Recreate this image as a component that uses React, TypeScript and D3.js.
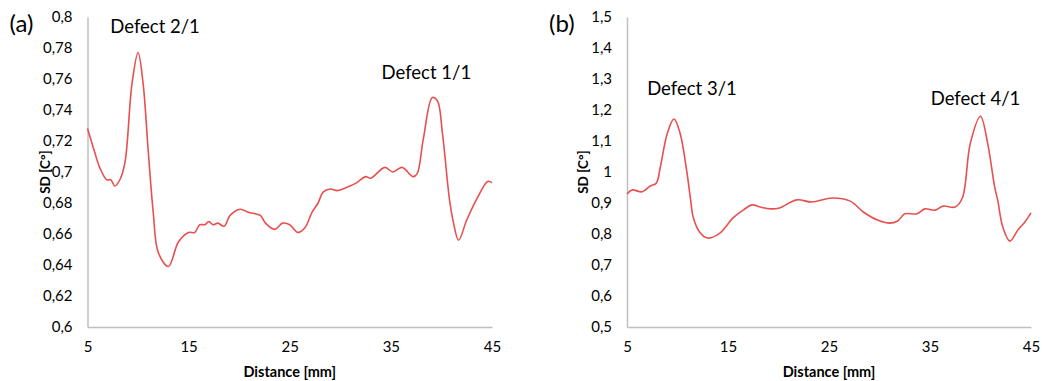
import { useEffect, useRef } from 'react';
import * as d3 from 'd3';

const W = 1042;
const H = 381;

// distance [mm] and SD values
const distA = [5.0, 5.7, 6.2, 6.9, 7.3, 7.7, 8.2, 8.7, 9.4, 10.0, 10.5, 11.0, 11.5, 12.0, 13.0, 14.0, 15.0, 15.6, 16.1, 16.6, 17.0, 17.4, 17.9, 18.5, 19.1, 20.1, 20.9, 21.6, 22.1, 22.6, 23.5, 24.3, 25.0, 25.8, 26.5, 27.2, 27.8, 28.3, 29.0, 29.7, 30.6, 31.6, 32.5, 33.0, 34.4, 35.2, 36.1, 37.2, 37.6, 38.2, 39.1, 39.6, 40.1, 40.8, 41.2, 41.7, 42.5, 43.6, 44.6, 45.0];
const sdA = [0.728, 0.713, 0.703, 0.695, 0.695, 0.691, 0.695, 0.706, 0.757, 0.777, 0.757, 0.714, 0.674, 0.648, 0.639, 0.655, 0.661, 0.661, 0.666, 0.666, 0.668, 0.666, 0.667, 0.665, 0.672, 0.676, 0.674, 0.673, 0.672, 0.667, 0.663, 0.667, 0.666, 0.661, 0.664, 0.674, 0.680, 0.687, 0.689, 0.688, 0.690, 0.693, 0.697, 0.696, 0.703, 0.700, 0.703, 0.697, 0.699, 0.721, 0.748, 0.746, 0.725, 0.682, 0.667, 0.656, 0.669, 0.684, 0.694, 0.693];

const distB = [5.0, 5.5, 6.5, 7.3, 7.9, 8.3, 9.0, 9.65, 10.25, 10.9, 11.3, 11.55, 12.2, 13.0, 14.2, 15.5, 16.5, 17.4, 18.2, 19.2, 20.1, 21.8, 23.3, 25.3, 27.1, 28.4, 29.8, 31.0, 31.8, 32.5, 33.7, 34.5, 35.5, 36.3, 37.5, 38.2, 39.0, 40.0, 40.7, 41.4, 41.7, 42.2, 42.9, 43.7, 44.4, 45.0];
const sdB = [0.929, 0.942, 0.936, 0.955, 0.964, 1.016, 1.126, 1.171, 1.126, 1.006, 0.91, 0.855, 0.806, 0.787, 0.803, 0.852, 0.877, 0.894, 0.887, 0.881, 0.884, 0.91, 0.903, 0.916, 0.906, 0.871, 0.845, 0.835, 0.842, 0.865, 0.865, 0.881, 0.877, 0.89, 0.887, 0.916, 1.094, 1.18, 1.094, 0.952, 0.91, 0.823, 0.777, 0.813, 0.839, 0.868];

const xTicks = [5, 15, 25, 35, 45];
const yTicksA = [0.6, 0.62, 0.64, 0.66, 0.68, 0.7, 0.72, 0.74, 0.76, 0.78, 0.8];
const yTicksB = [0.5, 0.6, 0.7, 0.8, 0.9, 1, 1.1, 1.2, 1.3, 1.4, 1.5];

const panels = [
    {
        tag: '(a)', dist: distA, sd: sdA, yTicks: yTicksA, left: 87.5, right: 492, titleX: 45,
        notes: [
            { text: 'Defect 2/1', d: 10.0, v: 0.777, dx: 17, dy: -20 },
            { text: 'Defect 1/1', d: 39.1, v: 0.748, dx: -6, dy: -19 }
        ]
    },
    {
        tag: '(b)', dist: distB, sd: sdB, yTicks: yTicksB, left: 627, right: 1031, titleX: 583,
        notes: [
            { text: 'Defect 3/1', d: 9.65, v: 1.171, dx: 18, dy: -24 },
            { text: 'Defect 4/1', d: 40.0, v: 1.18, dx: -5, dy: -11 }
        ]
    }
];

const top = 17;
const bottom = 327;
const font = 'Lato, "Open Sans", sans-serif';
const fmt = (d: number) => String(d).replace('.', ',');

export default function App() {
    const ref = useRef<SVGSVGElement>(null);

    useEffect(() => {
        const svg = d3.select(ref.current);
        svg.selectAll('*').remove();

        panels.forEach((p) => {
            const g = svg.append('g');
            const x = d3.scaleLinear().domain([5, 45]).range([p.left, p.right]);
            const yExt = d3.extent(p.yTicks) as [number, number];
            const y = d3.scaleLinear().domain(yExt).range([bottom, top]);

            // x axis
            g.append('g')
                .attr('transform', `translate(0,${bottom})`)
                .call(d3.axisBottom(x).tickValues(xTicks).tickSize(0).tickPadding(14).tickFormat((d) => String(d)))
                .call((a) => a.select('.domain').attr('stroke', '#bfbfbf').attr('stroke-width', 1.5))
                .call((a) => a.selectAll('text').attr('font-family', font).attr('font-size', 15).attr('fill', '#000'));

            // y axis
            g.append('g')
                .attr('transform', `translate(${p.left},0)`)
                .call(d3.axisLeft(y).tickValues(p.yTicks).tickSize(0).tickPadding(15).tickFormat((d) => fmt(d as number)))
                .call((a) => a.select('.domain').attr('stroke', '#bfbfbf').attr('stroke-width', 1.5))
                .call((a) => a.selectAll('text').attr('font-family', font).attr('font-size', 15).attr('fill', '#000'));

            const line = d3
                .line<number>()
                .x((_, i) => x(p.dist[i]))
                .y((d) => y(d))
                .curve(d3.curveCatmullRom.alpha(0.5));

            g.append('path')
                .attr('d', line(p.sd))
                .attr('fill', 'none')
                .attr('stroke', '#e8504f')
                .attr('stroke-width', 1.6);

            // axis titles
            g.append('text')
                .attr('x', (p.left + p.right) / 2)
                .attr('y', 377)
                .attr('text-anchor', 'middle')
                .attr('font-family', font)
                .attr('font-weight', 'bold')
                .attr('font-size', 14.5)
                .text('Distance [mm]');

            g.append('text')
                .attr('transform', `translate(${p.titleX + 5},${172}) rotate(-90)`)
                .attr('text-anchor', 'middle')
                .attr('font-family', font)
                .attr('font-weight', 'bold')
                .attr('font-size', 13.5)
                .text('SD [C°]');

            g.append('text')
                .attr('x', p.left - 78)
                .attr('y', 32)
                .attr('font-family', font)
                .attr('font-size', 24)
                .text(p.tag);

            p.notes.forEach((n) => {
                g.append('text')
                    .attr('x', x(n.d) + n.dx)
                    .attr('y', y(n.v) + n.dy)
                    .attr('text-anchor', 'middle')
                    .attr('font-family', font)
                    .attr('font-size', 18.5)
                    .text(n.text);
            });
        });
    }, []);

    return (
        <svg
            ref={ref}
            width={W}
            height={H}
            style={{ position: 'absolute', left: 0, top: 0, background: '#fff' }}
        />
    );
}
